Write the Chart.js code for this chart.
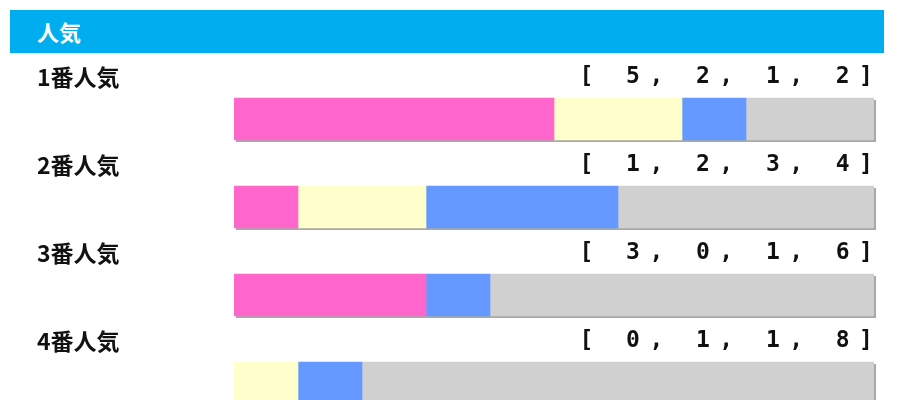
<!DOCTYPE html>
<html>
<head>
<meta charset="utf-8">
<script src="https://cdn.jsdelivr.net/npm/chart.js@4/dist/chart.umd.min.js"></script>
<style>
  html, body { margin: 0; padding: 0; background: #fff; width: 904px; height: 400px; overflow: hidden; }
  #header { position: absolute; left: 10px; top: 10px; width: 874px; height: 43px; background: #00AEEF;
    color: #fff; font: bold 22px "Noto Sans CJK JP", "Noto Sans", sans-serif; line-height: 43px; box-sizing: border-box; padding-left: 27px; }
  #wrap { position: absolute; left: 0; top: 0; width: 904px; height: 440px; }
</style>
</head>
<body>
<div id="wrap"><canvas id="c" width="904" height="440"></canvas></div>
<div id="header">人気</div>
<script>
const categories = ["1番人気", "2番人気", "3番人気", "4番人気"];
const seriesNames = ["1着", "2着", "3着", "着外"];
const firstPlace = [5, 1, 3, 0];
const secondPlace = [2, 2, 0, 1];
const thirdPlace = [1, 3, 1, 1];
const outside = [2, 4, 6, 8];
const colors = ["#FF66CC", "#FFFFCC", "#6699FF", "#D0D0D0"];

const seriesValues = [firstPlace, secondPlace, thirdPlace, outside];

const shadowPlugin = {
  id: 'barShadow',
  beforeDatasetsDraw(chart) {
    const ctx = chart.ctx, xs = chart.scales.x, ys = chart.scales.y;
    ctx.save();
    ctx.fillStyle = '#A8A8A8';
    const h = 42;
    categories.forEach((c, i) => {
      const total = seriesValues.reduce((s, arr) => s + arr[i], 0);
      const y0 = ys.getPixelForValue(i) - h / 2;
      const x0 = xs.getPixelForValue(0);
      const x1 = xs.getPixelForValue(total);
      ctx.fillRect(x0 + 2, y0 + 2, x1 - x0, h);
    });
    ctx.restore();
  }
};

const textPlugin = {
  id: 'rowText',
  afterDraw(chart) {
    const ctx = chart.ctx, xs = chart.scales.x, ys = chart.scales.y;
    ctx.save();
    ctx.fillStyle = '#111';
    ctx.textBaseline = 'middle';
    categories.forEach((c, i) => {
      const cy = ys.getPixelForValue(i) - 42;
      ctx.font = 'bold 23px "Noto Sans CJK JP", "Noto Sans", sans-serif';
      ctx.textAlign = 'left';
      ctx.fillText(c, 37, cy);
      const vals = seriesValues.map(a => a[i]);
      const str = "[ " + vals.join(", ") + "]";
      ctx.font = 'bold 23px "DejaVu Sans Mono", monospace';
      ctx.textAlign = 'center';
      const adv = 23.3;
      const right = xs.getPixelForValue(10) - 8;
      for (let k = 0; k < str.length; k++) {
        const ch = str[k];
        if (ch === ' ') continue;
        const cx = right - (str.length - 1 - k) * adv;
        ctx.fillText(ch, cx, cy);
      }
    });
    ctx.restore();
  }
};

new Chart(document.getElementById('c'), {
  type: 'bar',
  data: {
    labels: categories,
    datasets: seriesNames.map((n, k) => ({
      label: n,
      data: seriesValues[k].map(v => (v === 0 ? null : v)),
      backgroundColor: colors[k],
      borderWidth: 0,
      barThickness: 42
    }))
  },
  options: {
    indexAxis: 'y',
    responsive: false,
    animation: false,
    events: [],
    layout: { padding: { left: 234, right: 30, top: 75, bottom: 13 } },
    plugins: { legend: { display: false }, tooltip: { enabled: false } },
    scales: {
      x: { stacked: true, min: 0, max: 10, display: false },
      y: { stacked: true, display: false }
    }
  },
  plugins: [shadowPlugin, textPlugin]
});
</script>
</body>
</html>
